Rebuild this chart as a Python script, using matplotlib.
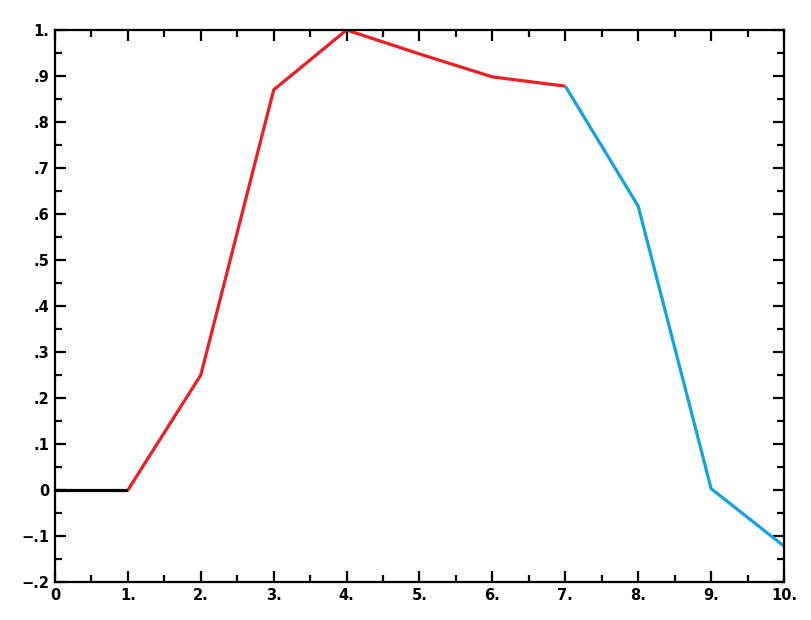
import matplotlib.pyplot as plt
import numpy as np

# данные по отрезкам
x_black = [0, 1]
y_black = [0, 0]
x_red = [1, 2, 3, 4, 5, 6, 7]
y_red = [0, 0.25, 0.87, 1.0, 0.948, 0.898, 0.878]
x_blue = [7, 8, 9, 10]
y_blue = [0.878, 0.617, 0.003, -0.122]

x_ticks = [0, 1, 2, 3, 4, 5, 6, 7, 8, 9, 10]
x_labels = ['0', '1.', '2.', '3.', '4.', '5.', '6.', '7.', '8.', '9.', '10.']
y_ticks = [-0.2, -0.1, 0, 0.1, 0.2, 0.3, 0.4, 0.5, 0.6, 0.7, 0.8, 0.9, 1.0]
y_labels = ['\u2212.2', '\u2212.1', '0', '.1', '.2', '.3', '.4', '.5', '.6', '.7', '.8', '.9', '1.']

fig = plt.figure(figsize=(8.12, 6.2), dpi=100)
ax = fig.add_axes([55/812, 38/620, 729/812, 552/620])

ax.plot(x_black, y_black, color='black', lw=2.3, solid_capstyle='butt')
ax.plot(x_red, y_red, color='#ee1d24', lw=2.3, solid_capstyle='butt')
ax.plot(x_blue, y_blue, color='#12a3e0', lw=2.3, solid_capstyle='butt')

ax.set_xlim(0, 10)
ax.set_ylim(-0.2, 1.0)
ax.set_xticks(x_ticks)
ax.set_xticklabels(x_labels)
ax.set_yticks(y_ticks)
ax.set_yticklabels(y_labels)
ax.set_xticks(np.arange(0.5, 10, 1), minor=True)
ax.set_yticks(np.arange(-0.15, 1.0, 0.1), minor=True)

for s in ax.spines.values():
    s.set_linewidth(1.6)
ax.tick_params(which='both', direction='in', top=True, right=True, width=1.6)
ax.tick_params(which='major', length=8, labelsize=10.5, pad=4)
ax.tick_params(which='minor', length=5)
for lab in ax.get_xticklabels() + ax.get_yticklabels():
    lab.set_fontweight('bold')
    lab.set_family('DejaVu Sans')

fig.savefig('out.png', dpi=100)
